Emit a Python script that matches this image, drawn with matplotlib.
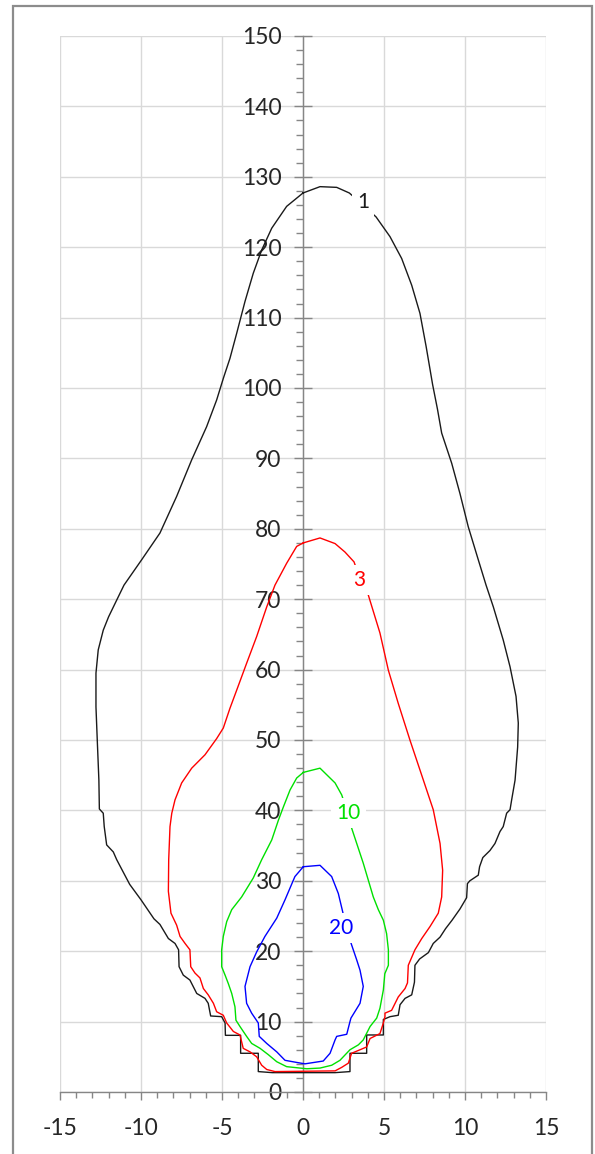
import matplotlib
matplotlib.use("Agg")
import matplotlib.pyplot as plt
from matplotlib.patches import Rectangle
from matplotlib.ticker import MultipleLocator

plt.rcParams["font.family"] = ["Lato", "DejaVu Sans"]
plt.rcParams["axes.unicode_minus"] = False

# Contour "1" (black), traced clockwise from the top
c1_x = [0.0, 1.05, 2.08, 2.86, 3.7, 4.51, 5.37, 6.09, 6.71, 7.22, 7.6, 8.0, 8.3, 8.56,
        9.18, 9.69, 10.2, 10.82, 11.3, 11.75, 12.36, 12.78, 13.15, 13.29, 13.25, 13.09,
        12.88, 12.78, 12.57, 12.36, 12.16, 11.85, 11.54, 11.1, 10.9, 10.82, 10.3, 10.15,
        10.1, 9.69, 9.2, 8.8, 8.46, 8.04, 7.74, 7.2, 6.91, 6.88, 6.71, 6.3, 5.99, 5.88,
        5.37, 4.96, 4.96, 3.93, 3.93, 2.9, 2.9, 1.98, -1.9, -2.76, -2.76, -3.85, -3.85,
        -4.79, -4.81, -5.02, -5.7, -5.85, -6.05, -6.56, -6.98, -7.39, -7.65, -7.68, -7.9,
        -8.31, -8.83, -9.2, -10.0, -10.7, -11.5, -11.71, -12.12, -12.27, -12.33, -12.57,
        -12.6, -12.7, -12.78, -12.78, -12.64, -12.33, -12.0, -11.6, -11.05, -9.96, -8.83,
        -7.8, -6.87, -5.95, -5.33, -4.9, -4.51, -4.09, -3.58, -3.07, -2.55, -1.93, -1.01,
        0.0]
c1_y = [127.7, 128.6, 128.5, 127.7, 126.0, 124.3, 121.5, 118.4, 114.6, 110.6, 105.9,
        100.5, 97.0, 93.6, 89.3, 85.0, 80.3, 75.6, 72.0, 68.9, 64.2, 60.4, 56.2, 52.4,
        49.0, 44.3, 41.5, 40.1, 39.6, 37.7, 37.0, 35.3, 34.3, 33.3, 32.0, 30.8, 30.0,
        29.6, 27.6, 26.0, 24.4, 23.2, 22.0, 21.1, 19.8, 18.9, 18.0, 15.6, 13.8, 13.3,
        12.4, 10.9, 10.7, 10.3, 8.1, 8.1, 5.5, 5.5, 2.9, 2.75, 2.75, 2.9, 5.5, 5.5, 8.05,
        8.05, 9.8, 10.7, 10.8, 12.6, 13.3, 14.0, 15.9, 16.6, 17.8, 20.2, 21.1, 21.8, 23.8,
        24.6, 27.3, 29.5, 33.0, 34.1, 35.1, 37.7, 39.6, 40.2, 44.3, 50.0, 54.7, 59.5,
        62.8, 65.6, 67.5, 69.4, 72.0, 75.6, 79.4, 84.6, 89.8, 94.5, 98.3, 101.5, 104.2,
        107.8, 112.3, 116.3, 119.6, 122.7, 125.8, 127.7]

# Contour "3" (red)
c3_x = [0.02, 1.05, 1.98, 2.59, 3.15, 3.5, 4.03, 4.75, 5.27, 5.88, 6.6, 7.43, 8.04, 8.46,
        8.62, 8.56, 8.35, 7.84, 7.33, 6.91, 6.5, 6.45, 6.3, 5.88, 5.47, 5.06, 5.06, 4.96,
        4.75, 4.14, 3.93, 3.52, 3.0, 2.8, 2.39, 1.98, -1.73, -2.24, -2.55, -2.86, -3.27,
        -3.69, -3.89, -4.3, -4.71, -4.92, -5.33, -5.53, -5.85, -6.15, -6.36, -6.67, -6.93,
        -6.98, -7.28, -7.59, -7.8, -8.15, -8.31, -8.29, -8.21, -8.1, -7.9, -7.49, -6.87,
        -6.05, -5.33, -4.92, -4.51, -4.09, -3.48, -2.86, -2.24, -1.73, -1.01, -0.39, 0.02]
c3_y = [78.0, 78.7, 77.9, 76.7, 75.3, 73.0, 70.6, 65.2, 59.9, 55.2, 50.0, 44.3, 40.1,
        35.3, 31.5, 27.7, 25.4, 23.5, 21.8, 20.2, 18.0, 15.5, 14.7, 13.5, 11.6, 11.2,
        10.7, 9.8, 8.3, 7.6, 6.4, 6.0, 5.5, 4.1, 3.5, 3.0, 2.9, 3.2, 3.8, 5.0, 5.7, 6.2,
        8.1, 8.6, 9.8, 10.9, 11.4, 12.6, 13.8, 14.7, 16.2, 16.9, 17.8, 20.2, 21.1, 22.1,
        23.7, 25.4, 28.5, 33.0, 37.7, 39.6, 41.5, 43.9, 46.0, 47.9, 50.2, 51.7, 54.5,
        57.1, 60.9, 64.7, 68.9, 72.0, 75.1, 77.5, 78.0]

# Contour "10" (green)
c10_x = [0.02, 1.05, 1.98, 2.39, 2.7, 3.0, 3.72, 4.34, 4.65, 4.96, 5.16, 5.27, 5.27,
         5.05, 4.96, 4.75, 4.55, 4.14, 3.72, 3.42, 2.9, 2.28, 1.77, 1.05, 0.23, -1.01,
         -1.62, -2.14, -2.65, -3.17, -3.48, -3.89, -4.14, -4.2, -4.4, -4.61, -4.81, -5.02,
         -5.02, -4.92, -4.71, -4.4, -3.79, -3.07, -2.55, -1.93, -1.52, -1.21, -0.8, -0.39,
         0.02]
c10_y = [45.4, 46.0, 43.9, 42.2, 40.0, 37.5, 32.5, 27.7, 25.9, 24.4, 22.5, 20.2, 18.0,
         16.8, 14.5, 11.9, 10.5, 9.3, 7.4, 6.7, 6.0, 4.5, 3.8, 3.4, 3.3, 3.6, 4.3, 5.3,
         6.2, 6.9, 7.9, 9.3, 10.2, 12.1, 14.0, 15.4, 16.6, 17.8, 20.2, 22.1, 24.2, 25.9,
         27.7, 30.4, 33.0, 35.8, 38.6, 40.5, 42.9, 44.6, 45.4]

# Contour "20" (blue)
c20_x = [0.02, 1.05, 1.77, 2.18, 2.45, 2.7, 3.0, 3.31, 3.52, 3.72, 3.52, 2.96, 2.9, 2.7,
         2.08, 1.98, 1.67, 1.25, 0.12, -0.39, -1.11, -1.62, -2.24, -2.7, -2.76, -3.17,
         -3.48, -3.58, -3.27, -2.86, -2.35, -1.62, -1.11, -0.5, 0.02]
c20_y = [32.0, 32.2, 30.6, 28.2, 25.6, 23.0, 20.9, 18.8, 17.3, 15.0, 12.6, 10.5, 10.0,
         8.2, 7.9, 7.4, 5.5, 4.4, 4.0, 4.2, 4.5, 5.7, 6.9, 7.9, 9.8, 11.2, 12.6, 15.0,
         17.8, 19.9, 22.1, 24.7, 27.3, 30.6, 32.0]

levels = ["1", "3", "10", "20"]
colors = ["#1a1a1a", "#ff0000", "#00e000", "#0000ff"]
label_x = [3.7, 3.45, 2.8, 2.35]
label_y = [126.4, 72.7, 39.6, 23.3]

spine_color = "#868686"
grid_color = "#d9d9d9"
text_color = "#262626"

fig = plt.figure(figsize=(5.95, 11.54), dpi=100)
ax = fig.add_axes([60 / 595, 1 - 1092 / 1154, 486 / 595, 1056 / 1154])

curves = [(c1_x, c1_y), (c3_x, c3_y), (c10_x, c10_y), (c20_x, c20_y)]
for (xs, ys), color in zip(curves, colors):
    ax.plot(xs, ys, color=color, lw=1.0, zorder=3)

for lev, lx, ly, color in zip(levels, label_x, label_y, colors):
    ax.text(lx, ly, lev, color=color, fontsize=15, ha="center", va="center", zorder=4,
            bbox=dict(boxstyle="square,pad=0.25", fc="white", ec="none"))

ax.set_xlim(-15, 15)
ax.set_ylim(0, 150)
ax.xaxis.set_major_locator(MultipleLocator(5))
ax.xaxis.set_minor_locator(MultipleLocator(1))
ax.yaxis.set_major_locator(MultipleLocator(10))
ax.yaxis.set_minor_locator(MultipleLocator(2))

ax.grid(which="major", color=grid_color, lw=1.0)
ax.set_axisbelow(True)

ax.spines["left"].set_position(("data", 0))
for side in ["left", "bottom"]:
    ax.spines[side].set_color(spine_color)
    ax.spines[side].set_linewidth(1.0)
ax.spines["top"].set_visible(False)
ax.spines["right"].set_visible(False)

ax.tick_params(axis="y", which="major", direction="inout", length=13, width=1,
               color=spine_color, pad=9, labelsize=16.5, labelcolor=text_color)
ax.tick_params(axis="y", which="minor", direction="out", length=5, width=1,
               color=spine_color)
ax.tick_params(axis="x", which="major", direction="out", length=6, width=1,
               color=spine_color, pad=13, labelsize=16.5, labelcolor=text_color)
ax.tick_params(axis="x", which="minor", direction="out", length=4, width=1,
               color=spine_color)
for lab in ax.get_yticklabels():
    lab.set_zorder(5)

# outer chart border
fig.patches.append(Rectangle((13 / 595, -0.01), 579 / 595, 1 - 6 / 1154 + 0.01,
                             transform=fig.transFigure, fill=False,
                             ec="#8c8c8c", lw=1.6))

fig.savefig("out.png", dpi=100)
